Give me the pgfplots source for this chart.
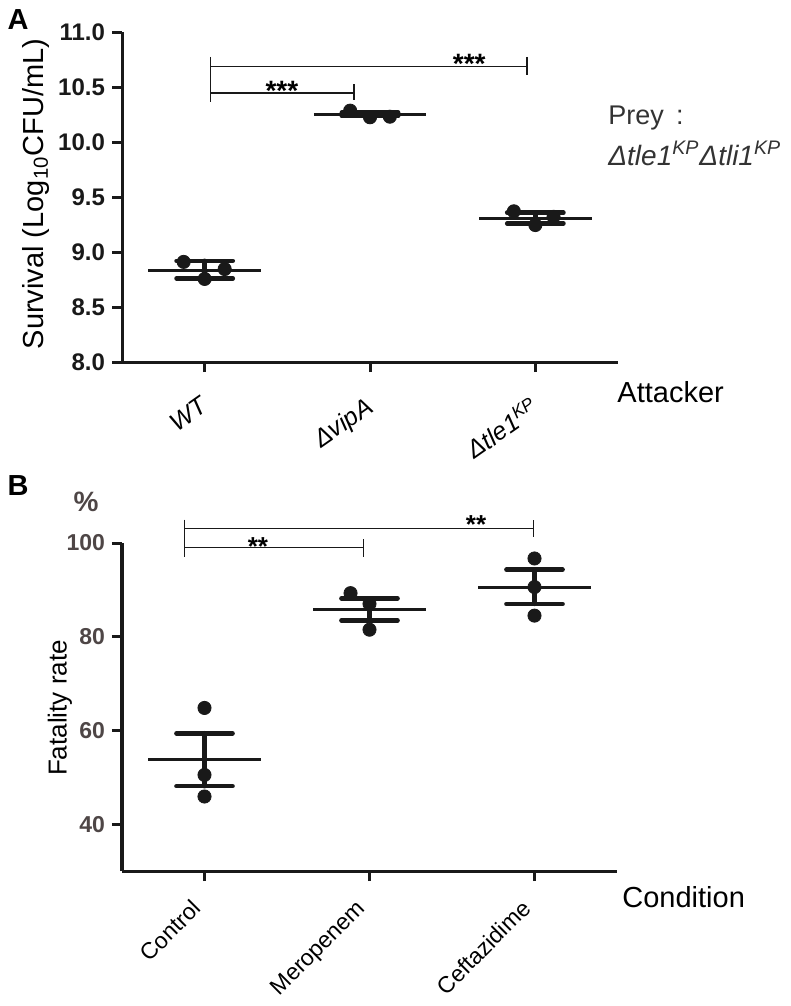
\documentclass[border=0pt]{standalone}
\usepackage{fontspec}
\setmainfont{Liberation Sans}
\usepackage{pgfplots}
\pgfplotsset{compat=1.18}

\definecolor{tickgray}{RGB}{78,70,70}
\definecolor{ink}{RGB}{25,25,25}

\pgfplotsset{
  panel/.style={
    scale only axis, clip=false,
    xmin=-0.5, xmax=2.5,
    separate axis lines,
    axis x line*=bottom, axis y line*=left,
    axis line style={line width=1.5pt, ink, -},
    tick align=outside, major tick length=5pt,
    tick style={line width=1.5pt, ink},
    xtick={0,1,2},
  },
  dots/.style={only marks, mark=*, mark size=3.3pt, ink},
  meanline/.style={line width=1.5pt, ink, no markers},
  capline/.style={line width=2.3pt, ink, no markers, line cap=round},
}
\tikzset{bracket/.style={line width=0.6pt, ink}}

\begin{document}
\begin{tikzpicture}
\useasboundingbox (0pt,0pt) rectangle (395.5pt,-503pt);

% ---- panel A ----
\begin{axis}[panel,
  at={(61pt,-181pt)}, anchor=south west,
  width=248pt, height=165pt,
  ymin=8, ymax=11,
  ytick={8,8.5,9,9.5,10,10.5,11},
  yticklabels={8.0,8.5,9.0,9.5,10.0,10.5,11.0},
  yticklabel style={font=\fontsize{12}{14}\selectfont\bfseries, ink},
  xticklabels={{\itshape WT},{\itshape ΔvipA},{\itshape Δtle1\textsuperscript{KP}}},
  xticklabel style={font=\fontsize{12.5}{14}\selectfont, rotate=35, anchor=north east, inner sep=0pt, xshift=-9pt, yshift=-8pt},
]
% WT
\addplot[dots] coordinates {(-0.127,8.91) (0,8.755) (0.121,8.845)};
\addplot[meanline] coordinates {(-0.34,8.836) (0.34,8.836)};
\addplot[capline] coordinates {(-0.17,8.92) (0.17,8.92)};
\addplot[capline] coordinates {(-0.17,8.76) (0.17,8.76)};
\addplot[capline] coordinates {(0,8.76) (0,8.92)};
% vipA
\addplot[dots] coordinates {(0.88,10.285) (1,10.225) (1.12,10.23)};
\addplot[meanline] coordinates {(0.66,10.252) (1.34,10.252)};
\addplot[capline] coordinates {(0.83,10.268) (1.17,10.268)};
\addplot[capline] coordinates {(0.83,10.236) (1.17,10.236)};
% tle1
\addplot[dots] coordinates {(1.87,9.37) (2,9.245) (2.11,9.32)};
\addplot[meanline] coordinates {(1.66,9.306) (2.34,9.306)};
\addplot[capline] coordinates {(1.83,9.357) (2.17,9.357)};
\addplot[capline] coordinates {(1.83,9.26) (2.17,9.26)};
\addplot[capline] coordinates {(2,9.26) (2,9.357)};
% significance
\draw[bracket] (axis cs:0.036,10.773) -- (axis cs:0.036,10.364);
\draw[bracket] (axis cs:0.036,10.445) -- (axis cs:0.903,10.445);
\draw[bracket] (axis cs:0.903,10.527) -- (axis cs:0.903,10.382);
\draw[bracket] (axis cs:0.036,10.69) -- (axis cs:1.95,10.69);
\draw[bracket] (axis cs:1.95,10.773) -- (axis cs:1.95,10.609);
\node[anchor=north, inner sep=0pt, font=\fontsize{14}{14}\selectfont\bfseries] at (axis cs:0.467,10.555) {***};
\node[anchor=north, inner sep=0pt, font=\fontsize{14}{14}\selectfont\bfseries] at (axis cs:1.6,10.797) {***};
\end{axis}

% ---- panel B ----
\begin{axis}[panel,
  at={(61pt,-435.5pt)}, anchor=south west,
  width=247.5pt, height=164pt,
  ymin=30, ymax=100,
  ytick={40,60,80,100},
  yticklabel style={font=\fontsize{11.5}{13}\selectfont\bfseries, tickgray, /pgf/number format/assume math mode=true},
  xticklabels={Control,Meropenem,Ceftazidime},
  xticklabel style={font=\fontsize{11.5}{13}\selectfont, rotate=45, anchor=north east, inner sep=0pt, xshift=-11pt, yshift=-1pt},
]
% Control
\addplot[dots] coordinates {(0,64.8) (0,50.5) (0,45.9)};
\addplot[meanline] coordinates {(-0.34,53.9) (0.34,53.9)};
\addplot[capline] coordinates {(-0.17,59.4) (0.17,59.4)};
\addplot[capline] coordinates {(-0.17,48.1) (0.17,48.1)};
\addplot[capline] coordinates {(0,48.1) (0,59.4)};
% Meropenem
\addplot[dots] coordinates {(0.885,89.3) (1,87.0) (1,81.5)};
\addplot[meanline] coordinates {(0.66,85.9) (1.34,85.9)};
\addplot[capline] coordinates {(0.83,88.2) (1.17,88.2)};
\addplot[capline] coordinates {(0.83,83.5) (1.17,83.5)};
\addplot[capline] coordinates {(1,83.5) (1,88.2)};
% Ceftazidime
\addplot[dots] coordinates {(2,96.7) (2,90.6) (2,84.5)};
\addplot[meanline] coordinates {(1.66,90.6) (2.34,90.6)};
\addplot[capline] coordinates {(1.83,94.3) (2.17,94.3)};
\addplot[capline] coordinates {(1.83,87.0) (2.17,87.0)};
\addplot[capline] coordinates {(2,87.0) (2,94.3)};
% significance
\draw[bracket] (axis cs:-0.119,105.0) -- (axis cs:-0.119,96.96);
\draw[bracket] (axis cs:-0.119,99.0) -- (axis cs:0.962,99.0);
\draw[bracket] (axis cs:0.962,100.85) -- (axis cs:0.962,96.96);
\draw[bracket] (axis cs:-0.119,103.1) -- (axis cs:1.996,103.1);
\draw[bracket] (axis cs:1.996,104.9) -- (axis cs:1.996,101.3);
\node[anchor=north, inner sep=0pt, font=\fontsize{13}{13}\selectfont\bfseries] at (axis cs:0.324,101.3) {**};
\node[anchor=north, inner sep=0pt, font=\fontsize{13}{13}\selectfont\bfseries] at (axis cs:1.646,105.9) {**};
\end{axis}

% ---- text around the panels ----
\node[font=\fontsize{14.5}{14.5}\selectfont\bfseries] at (9pt,-10pt) {A};
\node[font=\fontsize{14.5}{14.5}\selectfont\bfseries] at (9pt,-243pt) {B};
\node[font=\fontsize{14}{14}\selectfont\bfseries, tickgray] at (43pt,-251pt) {\%};
\node[rotate=90, font=\fontsize{14.5}{14.5}\selectfont] at (18pt,-97pt) {Survival (Log\textsubscript{10}CFU/mL)};
\node[rotate=90, font=\fontsize{13}{13}\selectfont] at (30pt,-354pt) {Fatality rate};
\node[anchor=west, inner sep=0pt, font=\fontsize{14.5}{14.5}\selectfont] at (308.5pt,-196pt) {Attacker};
\node[anchor=west, inner sep=0pt, font=\fontsize{14.5}{14.5}\selectfont] at (311pt,-448.5pt) {Condition};
\node[anchor=base west, inner sep=0pt, font=\fontsize{13.5}{13.5}\selectfont, black!80] at (304pt,-62.5pt) {Prey\hspace{0.45em}:};
\node[anchor=base west, inner sep=0pt, font=\fontsize{14}{14}\selectfont\itshape, black!80] at (304pt,-82.5pt) {Δtle1\textsuperscript{KP}Δtli1\textsuperscript{KP}};
\end{tikzpicture}
\end{document}
